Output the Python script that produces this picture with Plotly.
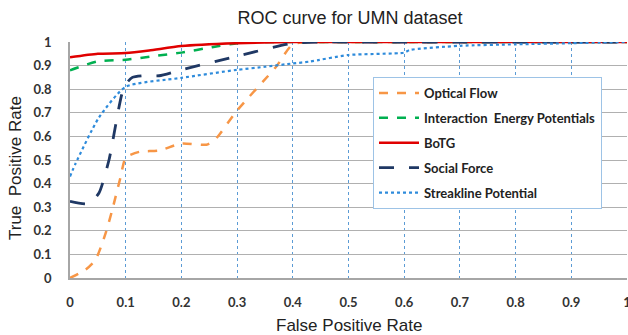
import plotly.graph_objects as go

# ---- data ----
of_x = [0, 0.028, 0.046, 0.064, 0.076, 0.091, 0.1, 0.125, 0.16, 0.2, 0.245, 0.26, 0.3, 0.37, 0.4, 0.45, 0.5, 0.6, 0.7, 0.8, 0.9, 1.0]
of_y = [0, 0.035, 0.078, 0.19, 0.29, 0.43, 0.51, 0.535, 0.54, 0.57, 0.565, 0.585, 0.71, 0.895, 0.99, 1.0, 1.0, 1.0, 1.0, 1.0, 1.0, 1.0]

ie_x = [0, 0.05, 0.1, 0.15, 0.2, 0.255, 0.3, 0.35, 0.4, 0.5, 0.6, 0.7, 0.8, 0.9, 1.0]
ie_y = [0.88, 0.918, 0.925, 0.94, 0.955, 0.978, 0.995, 1.0, 1.0, 1.0, 1.0, 1.0, 1.0, 1.0, 1.0]

bt_x = [0, 0.05, 0.1, 0.142, 0.2, 0.3, 0.4, 0.5, 0.6, 0.7, 0.8, 0.9, 1.0]
bt_y = [0.935, 0.95, 0.953, 0.964, 0.983, 0.995, 1.0, 1.0, 1.0, 1.0, 1.0, 1.0, 1.0]

sf_x = [0, 0.034, 0.052, 0.07, 0.097, 0.112, 0.13, 0.16, 0.2, 0.3, 0.4, 0.45, 0.5, 0.6, 0.7, 0.8, 0.9, 1.0]
sf_y = [0.325, 0.315, 0.36, 0.5, 0.81, 0.85, 0.857, 0.857, 0.882, 0.94, 0.995, 1.0, 1.0, 1.0, 1.0, 1.0, 1.0, 1.0]

sl_x = [0, 0.01, 0.052, 0.1, 0.2, 0.3, 0.35, 0.4, 0.43, 0.5, 0.6, 0.61, 0.7, 0.8, 0.9, 1.0]
sl_y = [0.43, 0.485, 0.68, 0.81, 0.848, 0.882, 0.895, 0.909, 0.917, 0.945, 0.955, 0.966, 0.984, 0.99, 0.995, 1.0]

names = ["Optical Flow", "Interaction  Energy Potentials", "BoTG", "Social Force", "Streakline Potential"]
colors = ["#F79646", "#00B050", "#E00000", "#1F3864", "#2E8BDB"]
dashes = ["dash", "dash", "solid", "longdash", "dot"]
widths = [2.5, 2.5, 2.5, 2.8, 2.2]

series = [(of_x, of_y), (ie_x, ie_y), (bt_x, bt_y), (sf_x, sf_y), (sl_x, sl_y)]

fig = go.Figure()
for i, ((xs, ys), n, c, d, w) in enumerate(zip(series, names, colors, dashes, widths)):
    fig.add_trace(go.Scatter(x=xs, y=ys, mode="lines", name=n, legendgroup=str(i),
                             line=dict(color=c, dash=d, width=w, shape="spline", smoothing=0.6)))

tick_font = dict(family="Lato", size=13, color="#333333", weight="bold")
title_font = dict(family="Liberation Sans", size=17, color="#222222")

PL, PR, PT, PB = 70, 627, 42, 278
def px_x(p):
    return (p - PL) / (PR - PL)
def px_y(p):
    return (PB - p) / (PB - PT)

fig.update_layout(
    width=628, height=335,
    margin=dict(l=PL, r=628 - PR, t=PT, b=335 - PB),
    paper_bgcolor="white", plot_bgcolor="white",
    title=dict(text="ROC curve for UMN dataset", x=px_x(350), xanchor="center", xref="paper",
               y=1 - 18 / 335, yanchor="middle", yref="container",
               font=dict(family="Liberation Sans", size=18, color="#222222")),
    showlegend=True,
    legend=dict(x=px_x(373), y=px_y(77), xanchor="left", yanchor="top",
                bgcolor="white", bordercolor="#9DC3E6", borderwidth=1,
                font=dict(family="Lato", size=13, color="#222222", weight="bold"),
                itemwidth=40, tracegroupgap=5, traceorder="grouped"),
    xaxis=dict(range=[0, 1], dtick=0.1, tick0=0, showgrid=True, gridcolor="#5B9BD5", griddash="dot",
               gridwidth=1, showline=True, linecolor="#A6A6A6", linewidth=1.5, zeroline=False,
               tickfont=tick_font, ticks="", ticklabelstandoff=12, tickformat="~g", automargin=False,
               ticklabeloverflow="allow"),
    yaxis=dict(range=[0, 1], dtick=0.1, tick0=0, showgrid=True, gridcolor="#B0B0B0", gridwidth=1,
               showline=True, linecolor="#A6A6A6", linewidth=1.5, zeroline=False,
               tickfont=tick_font, ticks="", ticklabelstandoff=14, tickformat="~g", automargin=False),
    annotations=[
        dict(text="False Positive Rate", x=px_x(349), y=px_y(325), xref="paper", yref="paper",
             xanchor="center", yanchor="middle", showarrow=False, font=title_font),
        dict(text="True  Positive Rate", x=px_x(15), y=px_y(168), xref="paper", yref="paper",
             xanchor="center", yanchor="middle", showarrow=False, textangle=-90, font=title_font),
    ],
)

fig.write_html("out.html", config={"displayModeBar": False})

# remove the default page margin so the figure sits at the window's top-left corner
with open("out.html", "r", encoding="utf-8") as f:
    html = f.read()
html = html.replace("<head>", "<head><style>html,body{margin:0;padding:0;overflow:hidden;}</style>", 1)
with open("out.html", "w", encoding="utf-8") as f:
    f.write(html)
